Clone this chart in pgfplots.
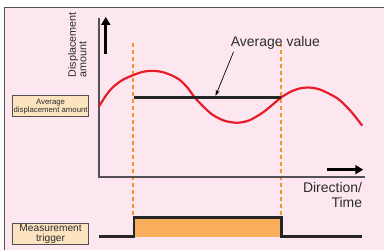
\documentclass[border=0pt]{standalone}
\usepackage{pgfplots}
\pgfplotsset{compat=1.18}
\usepackage{fontspec}
\setmainfont{Liberation Sans}
\usetikzlibrary{arrows.meta}
\definecolor{bgpink}{RGB}{252,231,240}
\definecolor{boxfill}{RGB}{253,228,192}
\definecolor{trigfill}{RGB}{248,174,90}
\definecolor{dashor}{RGB}{244,150,40}
\definecolor{curvered}{RGB}{232,28,40}
\definecolor{framegray}{RGB}{85,80,85}
\definecolor{txt}{RGB}{45,45,45}
\begin{document}
\begin{tikzpicture}
\begin{axis}[
  width=385pt, height=251pt, scale only axis,
  xmin=0, xmax=385, ymin=0, ymax=251, y dir=reverse,
  enlargelimits=false, hide axis, clip=false,
]
% backgrounds
\fill[white] (axis cs:0,0) rectangle (axis cs:385,251);
\fill[bgpink] (axis cs:4.5,7.5) rectangle (axis cs:385,251);
\draw[framegray, line width=1.6pt] (axis cs:4.5,251) -- (axis cs:4.5,7.5) -- (axis cs:385,7.5);

% dashed trigger lines
\addplot[color=dashor, line width=1.9pt, dash pattern=on 4.5pt off 2.5pt] coordinates {(133.5,43) (133.5,218)};
\addplot[color=dashor, line width=1.9pt, dash pattern=on 4.5pt off 2.5pt] coordinates {(281.5,43) (281.5,218)};

% axis frame
\addplot[framegray, line width=1.8pt] coordinates {(99,18) (99,177) (366,177)};

% arrows
\draw[black, line width=2.6pt, -{Triangle[length=8pt,width=9pt]}] (axis cs:106,54) -- (axis cs:106,17);
\draw[black, line width=2.6pt, -{Triangle[length=8pt,width=9pt]}] (axis cs:328,170) -- (axis cs:364,170);

% red displacement curve
\addplot[curvered, line width=2.2pt, smooth] coordinates {
(99,107) (106,96) (113,87.5) (123,80) (133,75.5) (143,72) (152,71) (162,72)
(172,75.5) (180,80) (188,88) (195,97.5) (204,107) (213,115) (225,121)
(238,123) (250,120.5) (263,113) (273,105) (282,97.5) (292,91.5) (301,88.5)
(310,87.7) (320,89.5) (330,94) (340,100) (352,112) (363,126)};

% average line
\addplot[black!85, line width=2.6pt] coordinates {(134,97.5) (282,97.5)};

% trigger signal
\addplot[trigfill, fill=trigfill, draw=none] coordinates {(134,218) (282,218) (282,237) (134,237)} -- cycle;
\addplot[black!85, line width=2.2pt] coordinates {(99,237) (134,237) (134,218) (282,218) (282,237) (363,237)};

% annotations
\node[txt, font=\fontsize{14}{15}\selectfont] at (axis cs:276,42.5) {Average value};
\draw[black, line width=0.7pt, -{Stealth[length=6pt,width=4pt]}] (axis cs:234,52) -- (axis cs:216,96);
\node[txt, rotate=90, align=left, font=\fontsize{10.8}{10.5}\selectfont] at (axis cs:77.5,45) {Displacement\\amount};
\node[txt, align=right, anchor=north east, inner sep=0pt, font=\fontsize{14}{14.5}\selectfont] at (axis cs:363,183) {Direction/\\Time};

% label boxes
\draw[framegray, fill=boxfill, line width=1pt] (axis cs:12.5,96) rectangle (axis cs:89,117);
\node[txt, align=center, font=\fontsize{7.8}{8}\selectfont] at (axis cs:50.7,106.5) {Average\\displacement amount};
\draw[framegray, fill=boxfill, line width=1pt] (axis cs:12.5,224) rectangle (axis cs:89,245);
\node[txt, align=center, font=\fontsize{10.2}{10}\selectfont] at (axis cs:50.7,234.5) {Measurement\\trigger};
\end{axis}
\end{tikzpicture}
\end{document}
